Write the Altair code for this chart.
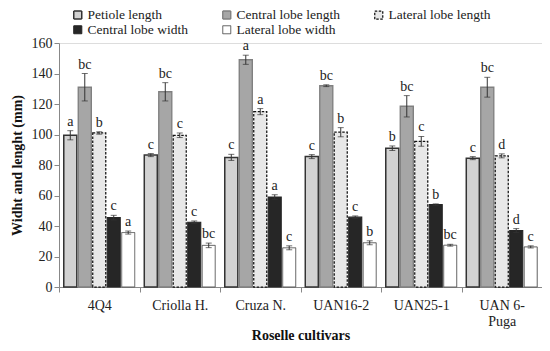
import altair as alt
import pandas as pd

cultivars = ["4Q4", "Criolla H.", "Cruza N.", "UAN16-2", "UAN25-1", "UAN 6-Puga"]
series = ["Petiole length", "Central lobe length", "Lateral lobe length",
          "Central lobe width", "Lateral lobe width"]

petiole = [99.5, 86.5, 85, 85.5, 91, 84.5]
central_len = [131, 128, 149, 132, 118.5, 131]
lateral_len = [101, 99.5, 115, 101.5, 95.5, 86]
central_wid = [45.5, 42.5, 59, 45.8, 54, 37]
lateral_wid = [35.7, 27.3, 25.7, 29, 27.4, 26.3]

petiole_err = [3, 1, 2, 1.3, 1.5, 1]
central_len_err = [9, 6, 3, 0.6, 7, 6.5]
lateral_len_err = [0.8, 1.5, 2, 3, 3.2, 1.3]
central_wid_err = [1.5, 0.8, 1.5, 0.8, 0.5, 1.3]
lateral_wid_err = [1, 1.5, 1.3, 1.3, 0.6, 0.7]

petiole_let = ["a", "c", "c", "c", "b", "c"]
central_len_let = ["bc", "bc", "a", "bc", "bc", "bc"]
lateral_len_let = ["b", "c", "a", "b", "c", "d"]
central_wid_let = ["c", "c", "a", "c", "b", "d"]
lateral_wid_let = ["a", "bc", "c", "b", "bc", "c"]

y_ticks = [0, 20, 40, 60, 80, 100, 120, 140, 160]

vals = [petiole, central_len, lateral_len, central_wid, lateral_wid]
errs = [petiole_err, central_len_err, lateral_len_err, central_wid_err, lateral_wid_err]
lets = [petiole_let, central_len_let, lateral_len_let, central_wid_let, lateral_wid_let]

rows = []
for s, v, e, l in zip(series, vals, errs, lets):
    for c, vv, ee, ll in zip(cultivars, v, e, l):
        rows.append({"cultivar": c, "series": s, "value": vv,
                     "lo": vv - ee, "hi": vv + ee, "letter": ll})
df = pd.DataFrame(rows)

FONT = "Liberation Serif, Times New Roman, serif"

fills = ["#d2d2d2", "#a6a6a6", "#e8e8e8", "#262626", "#ffffff"]
strokes = ["#333333", "#808080", "#111111", "#262626", "#555555"]
dashes = [[1, 0], [1, 0], [2.5, 1.5], [1, 0], [1, 0]]
swidths = [1.5, 1, 2, 1, 1]

x = alt.X("cultivar:N", sort=cultivars,
          scale=alt.Scale(paddingInner=0, paddingOuter=0),
          axis=alt.Axis(title="Roselle cultivars", tickBand="extent",
                        labelAngle=0, labelFont=FONT, labelFontSize=14,
                        labelColor="#222", labelPadding=6, labelLineHeight=16,
                        labelExpr="datum.label == 'UAN 6-Puga' ? ['UAN 6-', 'Puga'] : datum.label",
                        titleFont=FONT, titleFontSize=14, titleFontWeight="bold",
                        titleColor="#111", titlePadding=0,
                        domainColor="#888", tickColor="#888", tickSize=5))
xo = alt.XOffset("series:N", sort=series,
                 scale=alt.Scale(domain=series, paddingInner=0.1, paddingOuter=0.33))
yscale = alt.Scale(domain=[0, 160], nice=False)
yaxis = alt.Axis(title="Widht and lenght (mm)", values=y_ticks,
                 grid=False, labelFont=FONT, labelFontSize=14, labelColor="#222",
                 labelOverlap=False,
                 titleFont=FONT, titleFontSize=14, titleFontWeight="bold",
                 titleColor="#111", titlePadding=7,
                 domainColor="#888", tickColor="#888", tickSize=5)

bars = alt.Chart(df).mark_bar().encode(
    x=x, xOffset=xo,
    y=alt.Y("value:Q", scale=yscale, axis=yaxis),
    fill=alt.Fill("series:N", sort=series,
                  scale=alt.Scale(domain=series, range=fills),
                  legend=alt.Legend(title=None, orient="none", legendX=12, legendY=-35,
                                    direction="horizontal",
                                    columns=3, columnPadding=32, rowPadding=0,
                                    symbolType="square", symbolSize=64,
                                    symbolStrokeColor="#222", symbolStrokeWidth=1,
                                    labelFont=FONT, labelFontSize=13.5, labelColor="#222",
                                    labelOffset=3)),
    stroke=alt.Stroke("series:N", sort=series,
                      scale=alt.Scale(domain=series, range=strokes), legend=None),
    strokeDash=alt.StrokeDash("series:N", sort=series,
                              scale=alt.Scale(domain=series, range=dashes), legend=None),
    strokeWidth=alt.StrokeWidth("series:N", sort=series,
                                scale=alt.Scale(domain=series, range=swidths), legend=None),
)

err = alt.Chart(df).mark_rule(color="#333", strokeWidth=1).encode(
    x=x, xOffset=xo, y=alt.Y("lo:Q", scale=yscale, axis=yaxis), y2="hi:Q")
cap_hi = alt.Chart(df).mark_tick(color="#333", thickness=1, size=6, orient="horizontal").encode(
    x=x, xOffset=xo, y=alt.Y("hi:Q", scale=yscale, axis=yaxis))
cap_lo = alt.Chart(df).mark_tick(color="#333", thickness=1, size=6, orient="horizontal").encode(
    x=x, xOffset=xo, y=alt.Y("lo:Q", scale=yscale, axis=yaxis))
txt = alt.Chart(df).mark_text(font=FONT, fontSize=14, color="#222",
                              baseline="bottom", dy=-2).encode(
    x=x, xOffset=xo, y=alt.Y("hi:Q", scale=yscale, axis=yaxis), text="letter:N")

chart = alt.layer(bars, err, cap_hi, cap_lo, txt).properties(
    width=483, height=244,
    autosize=alt.AutoSizeParams(type="none"),
    padding={"left": 51, "top": 35, "right": 0, "bottom": 56},
).configure_view(stroke=None).configure(background="white")

chart.save("out.html", embed_options={"renderer": "svg", "actions": False})
